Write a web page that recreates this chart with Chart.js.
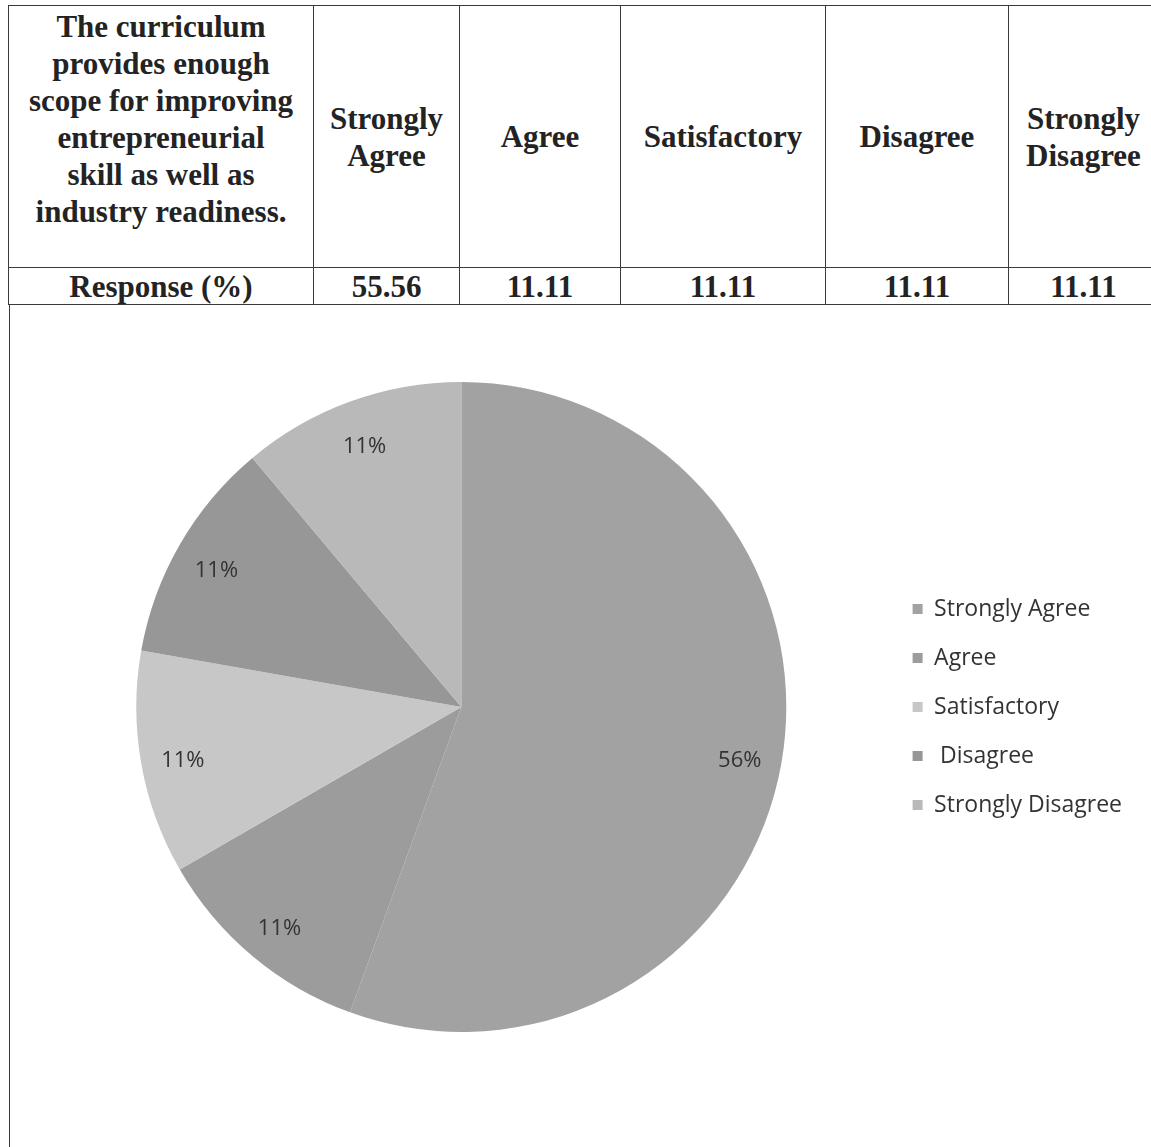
<!DOCTYPE html>
<html>
<head>
<meta charset="utf-8">
<script src="https://cdn.jsdelivr.net/npm/chart.js@4/dist/chart.umd.min.js"></script>
<style>
    html, body {
        margin: 0;
        padding: 0;
        background: #fff;
        width: 1151px;
        height: 1147px;
        overflow: hidden;
        position: relative;
    }
    #surveyTable {
        position: absolute;
        left: 8px;
        top: 5px;
        width: 1150px;
        border-collapse: collapse;
        table-layout: fixed;
        font-family: "Liberation Serif", "Times New Roman", serif;
        font-weight: bold;
        font-size: 31px;
        line-height: 37px;
        color: #232323;
    }
    #surveyTable td {
        border: 1.5px solid #3a3a3a;
        text-align: center;
        vertical-align: middle;
        padding: 0;
    }
    #surveyTable tr.head td { height: 261px; }
    #surveyTable tr.head td.question {
        vertical-align: top;
        padding-top: 2px;
        height: 259px;
    }
    #surveyTable tr.resp td { height: 34px; line-height: 34px; padding-top: 2px; }
    #leftRule {
        position: absolute;
        left: 9px;
        top: 304px;
        width: 0;
        height: 843px;
        border-left: 1.5px solid #3a3a3a;
    }
    #chartBox {
        position: absolute;
        left: 10px;
        top: 310px;
        width: 1141px;
        height: 800px;
    }
</style>
</head>
<body>
<table id="surveyTable">
    <colgroup>
        <col style="width:305px">
        <col style="width:146px">
        <col style="width:161px">
        <col style="width:205px">
        <col style="width:183px">
        <col style="width:150px">
    </colgroup>
    <tr class="head" id="headRow"></tr>
    <tr class="resp" id="respRow"></tr>
</table>
<div id="leftRule"></div>
<div id="chartBox"><canvas id="curriculumPie"></canvas></div>

<script>
// Survey data
const questionLines = ['The curriculum', 'provides enough', 'scope for improving', 'entrepreneurial', 'skill as well as', 'industry readiness.'];
const categories = ['Strongly Agree', 'Agree', 'Satisfactory', 'Disagree', 'Strongly Disagree'];
const headerLines = [['Strongly', 'Agree'], ['Agree'], ['Satisfactory'], ['Disagree'], ['Strongly', 'Disagree']];
const legendLabels = ['Strongly Agree', 'Agree', 'Satisfactory', ' Disagree', 'Strongly Disagree'];
const responses = [55.56, 11.11, 11.11, 11.11, 11.11];
const sliceColors = ['#a2a2a2', '#9c9c9c', '#c7c7c7', '#979797', '#b9b9b9'];

// Table
const buildTable = () => {
    const headRow = document.getElementById('headRow');
    const respRow = document.getElementById('respRow');

    const q = document.createElement('td');
    q.className = 'question';
    q.innerHTML = questionLines.join('<br>');
    headRow.appendChild(q);
    headerLines.forEach((lines) => {
        const td = document.createElement('td');
        td.innerHTML = lines.join('<br>');
        headRow.appendChild(td);
    });

    const r = document.createElement('td');
    r.textContent = 'Response (%)';
    respRow.appendChild(r);
    responses.forEach((v) => {
        const td = document.createElement('td');
        td.textContent = v.toFixed(2);
        respRow.appendChild(td);
    });
};

// Percentage labels inside the slices
const sliceLabels = {
    id: 'sliceLabels',
    afterDatasetsDraw(chart) {
        const { ctx } = chart;
        const meta = chart.getDatasetMeta(0);
        const values = chart.data.datasets[0].data;
        ctx.save();
        ctx.font = '22px "Open Sans", sans-serif';
        ctx.fillStyle = '#333333';
        ctx.textAlign = 'center';
        ctx.textBaseline = 'middle';
        meta.data.forEach((arc, i) => {
            const { x, y, startAngle, endAngle, outerRadius } = arc.getProps(['x', 'y', 'startAngle', 'endAngle', 'outerRadius'], true);
            const mid = (startAngle + endAngle) / 2;
            const r = outerRadius * 0.87;
            ctx.fillText(Math.round(values[i]) + '%', x + Math.cos(mid) * r, y + Math.sin(mid) * r + 5);
        });
        ctx.restore();
    }
};

const initCurriculumPie = () => {
    const ctx = document.getElementById('curriculumPie').getContext('2d');
    const data = {
        labels: legendLabels,
        datasets: [{
            data: responses,
            backgroundColor: sliceColors,
            borderWidth: 0
        }]
    };

    const options = {
        responsive: true,
        maintainAspectRatio: false,
        animation: false,
        layout: {
            padding: { top: 72, bottom: 78, left: 26, right: 19 }
        },
        plugins: {
            legend: {
                position: 'right',
                align: 'center',
                labels: {
                    boxWidth: 10,
                    boxHeight: 10,
                    padding: 26,
                    color: '#333333',
                    font: { family: '"Open Sans", sans-serif', size: 23 }
                }
            },
            tooltip: { enabled: false }
        }
    };

    new Chart(ctx, {
        type: 'pie',
        data,
        options,
        plugins: [sliceLabels]
    });
};

document.addEventListener('DOMContentLoaded', () => {
    buildTable();
    initCurriculumPie();
});
</script>
</body>
</html>
